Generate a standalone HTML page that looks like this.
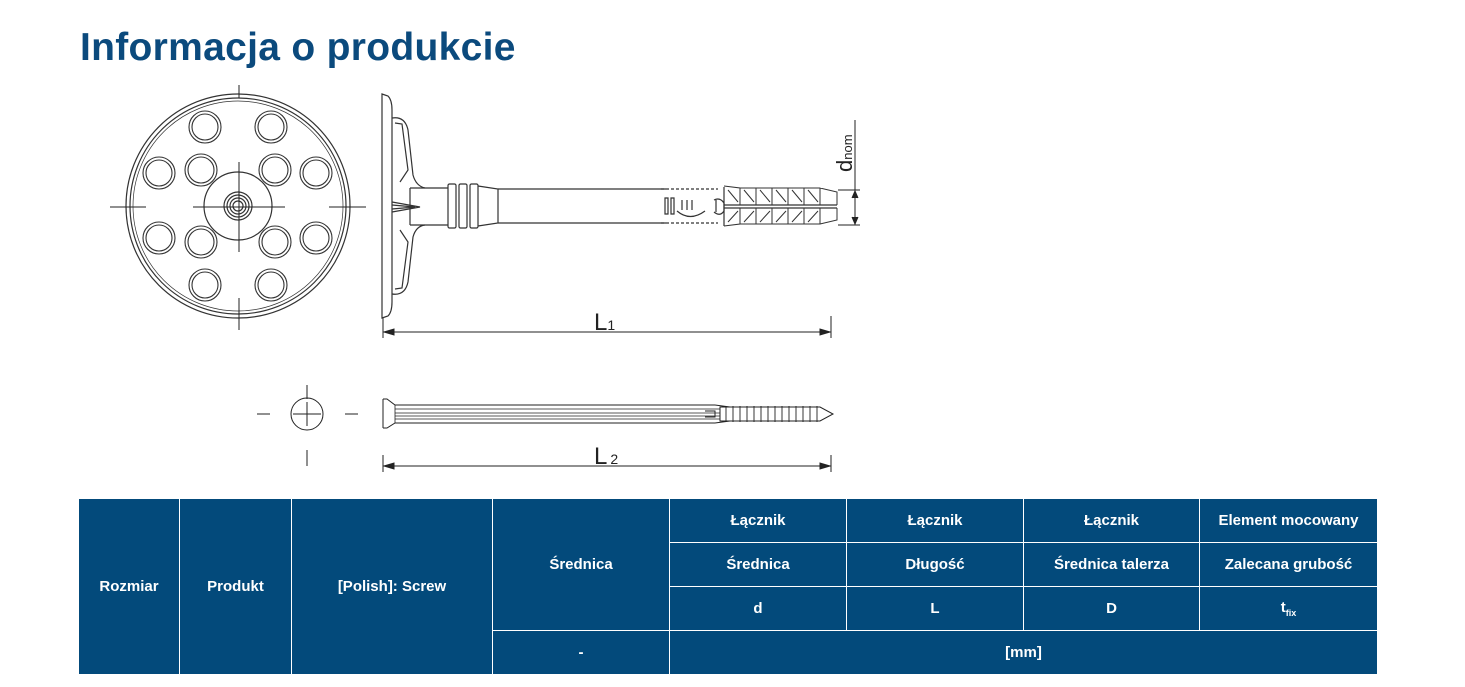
<!DOCTYPE html>
<html><head><meta charset="utf-8"><style>
html,body{margin:0;padding:0;background:#fff;width:1465px;height:687px;overflow:hidden}
h1{position:absolute;left:80px;top:26px;margin:0;font:bold 39px "Liberation Sans",sans-serif;color:#0b4a7d;letter-spacing:0.3px}
svg{position:absolute;left:0;top:0}
table{position:absolute;left:78px;top:498px;border-collapse:collapse;background:#034a7b;color:#fff;font:bold 15px "Liberation Sans",sans-serif;table-layout:fixed}
td{border:1px solid #fff;text-align:center;padding:0;height:43px}
</style></head><body>
<h1>Informacja o produkcie</h1>
<svg width="1465" height="687" viewBox="0 0 1465 687" fill="none" stroke="#333" stroke-width="1.2">
<!-- front view -->
<circle cx="238" cy="206" r="112"/><circle cx="238" cy="206" r="108"/><circle cx="238" cy="206" r="105" stroke-width="0.7"/>
<g stroke-width="1.1">
<circle cx="205" cy="127" r="16"/><circle cx="205" cy="127" r="13"/>
<circle cx="271" cy="127" r="16"/><circle cx="271" cy="127" r="13"/>
<circle cx="159" cy="173" r="16"/><circle cx="159" cy="173" r="13"/>
<circle cx="201" cy="170" r="16"/><circle cx="201" cy="170" r="13"/>
<circle cx="275" cy="170" r="16"/><circle cx="275" cy="170" r="13"/>
<circle cx="316" cy="173" r="16"/><circle cx="316" cy="173" r="13"/>
<circle cx="159" cy="238" r="16"/><circle cx="159" cy="238" r="13"/>
<circle cx="201" cy="242" r="16"/><circle cx="201" cy="242" r="13"/>
<circle cx="275" cy="242" r="16"/><circle cx="275" cy="242" r="13"/>
<circle cx="316" cy="238" r="16"/><circle cx="316" cy="238" r="13"/>
<circle cx="205" cy="285" r="16"/><circle cx="205" cy="285" r="13"/>
<circle cx="271" cy="285" r="16"/><circle cx="271" cy="285" r="13"/>
</g>
<circle cx="238" cy="206" r="34"/>
<circle cx="238" cy="206" r="14"/><circle cx="238" cy="206" r="11"/><circle cx="238" cy="206" r="8"/><circle cx="238" cy="206" r="5"/>
<g stroke="#222" stroke-width="1">
<line x1="110" y1="207" x2="146" y2="207"/><line x1="193" y1="207" x2="285" y2="207"/><line x1="329" y1="207" x2="366" y2="207"/>
<line x1="239" y1="85" x2="239" y2="98"/><line x1="239" y1="162" x2="239" y2="252"/><line x1="239" y1="298" x2="239" y2="330"/>
</g>
<!-- side view -->
<path d="M382 94 L388 96 Q392 100 392 110 L392 302 Q392 312 388 316 L382 318 Z"/>
<path d="M392 118 Q405 116 408 130 L413 175 Q416 186 425 188"/>
<path d="M395 123 L402 124 L408 170 L400 182"/>
<path d="M392 294 Q405 296 408 282 L413 237 Q416 226 425 225"/>
<path d="M395 289 L402 288 L408 242 L400 230"/>
<path d="M410 188 L448 188 M410 225 L448 225 M410 188 L410 225"/>
<path d="M392 202 L420 207 L392 212 M392 205 L415 207 L392 209"/>
<rect x="448" y="184" width="8" height="44" rx="1.5"/><rect x="459" y="184" width="8" height="44" rx="1.5"/><rect x="470" y="184" width="8" height="44" rx="1.5"/>
<path d="M478 186 L498 189 L498 223 L478 226"/>
<path d="M498 189 L666 189 M498 223 L666 223"/>
<g stroke-dasharray="3 2"><line x1="661" y1="189" x2="718" y2="189"/><line x1="661" y1="223" x2="718" y2="223"/></g>
<path d="M665 198 L668 198 L668 214 L665 214 Z M671 198 L674 198 L674 214 L671 214Z"/>
<path d="M677 211 Q690 222 705 211 M682 200 L682 210 M687 200 L687 210 M692 200 L692 210"/>
<path d="M714 200 Q720 197 724 203 L724 211 Q720 217 714 212 M716 200 L716 212"/>
<path d="M724 187 L724 226 M724 205 L837 205 M724 208 L837 208"/>
<g stroke-width="1">
<path d="M724 186 L740 188 L740 205 M740 188 L756 188 L756 205 M756 188 L772 188 L772 205 M772 188 L788 188 L788 205 M788 188 L804 188 L804 205 M804 188 L820 188 L820 205 M820 188 L837 192 L837 205"/>
<path d="M724 226 L740 224 L740 208 M740 224 L756 224 L756 208 M756 224 L772 224 L772 208 M772 224 L788 224 L788 208 M788 224 L804 224 L804 208 M804 224 L820 224 L820 208 M820 224 L837 220 L837 208"/>
<path d="M728 190 L738 202 M744 190 L754 202 M760 190 L770 202 M776 190 L786 202 M792 190 L802 202 M808 190 L818 202"/>
<path d="M728 222 L738 211 M744 222 L754 211 M760 222 L770 211 M776 222 L786 211 M792 222 L802 211 M808 222 L818 211"/>
</g>
<!-- dnom -->
<g stroke="#222" stroke-width="1">
<line x1="838" y1="190" x2="860" y2="190"/><line x1="838" y1="225" x2="860" y2="225"/>
<line x1="855" y1="120" x2="855" y2="225"/>
<path d="M852 198 L855 191 L858 198 M852 217 L855 224 L858 217" fill="#222"/>
<!-- L1 -->
<line x1="383" y1="318" x2="383" y2="338"/><line x1="831" y1="316" x2="831" y2="338"/>
<line x1="383" y1="332" x2="831" y2="332"/>
<path d="M384 332 L394 329 L394 335Z M830 332 L820 329 L820 335Z" fill="#222"/>
<!-- screw front -->
<circle cx="307" cy="414" r="16"/>
<line x1="307" y1="385" x2="307" y2="399"/><line x1="307" y1="402" x2="307" y2="426"/><line x1="307" y1="450" x2="307" y2="466"/>
<line x1="257" y1="414" x2="270" y2="414"/><line x1="293" y1="414" x2="321" y2="414"/><line x1="345" y1="414" x2="358" y2="414"/>
<!-- screw side -->
<path d="M383 399 L387 399 L395 405 L715 405 M383 428 L387 428 L395 423 L715 423 M383 399 L383 428"/>
<path d="M395 405 L395 423 M395 409 L720 409 M395 413 L720 413 M395 416 L720 416 M395 419 L720 419" stroke-width="0.8"/>
<path d="M715 405 L730 407 M715 423 L730 421 M705 411 L715 411 L715 417 L705 417"/>
<path d="M720 407 L820 407 L833 414 L820 421 L720 421 Z"/>
<path d="M726 406 L726 422 M733 406 L733 422 M740 406 L740 422 M747 406 L747 422 M754 406 L754 422 M761 406 L761 422 M768 406 L768 422 M775 406 L775 422 M782 406 L782 422 M789 406 L789 422 M796 406 L796 422 M803 406 L803 422 M810 406 L810 422 M817 406 L817 422" stroke-width="0.9"/>
<!-- L2 -->
<line x1="383" y1="455" x2="383" y2="472"/><line x1="831" y1="455" x2="831" y2="472"/>
<line x1="383" y1="466" x2="831" y2="466"/>
<path d="M384 466 L394 463 L394 469Z M830 466 L820 463 L820 469Z" fill="#222"/>
</g>
<g fill="#222" stroke="none" font-family="Liberation Sans, sans-serif">
<text x="594" y="330" font-size="24">L<tspan font-size="14">1</tspan></text>
<text x="594" y="464" font-size="24">L<tspan font-size="14" dx="3">2</tspan></text>
<text transform="translate(852,172) rotate(-90)" font-size="22">d<tspan font-size="13">nom</tspan></text>
</g>
</svg>
<table>
<colgroup><col style="width:101px"><col style="width:112px"><col style="width:201px"><col style="width:177px"><col style="width:177px"><col style="width:177px"><col style="width:176px"><col style="width:178px"></colgroup>
<tr><td rowspan="4">Rozmiar</td><td rowspan="4">Produkt</td><td rowspan="4">[Polish]: Screw</td><td rowspan="3">Średnica</td><td>Łącznik</td><td>Łącznik</td><td>Łącznik</td><td>Element mocowany</td></tr>
<tr><td>Średnica</td><td>Długość</td><td>Średnica talerza</td><td>Zalecana grubość</td></tr>
<tr><td>d</td><td>L</td><td>D</td><td>t<sub style="font-size:9px">fix</sub></td></tr>
<tr><td>-</td><td colspan="4">[mm]</td></tr>
</table>
</body></html>
